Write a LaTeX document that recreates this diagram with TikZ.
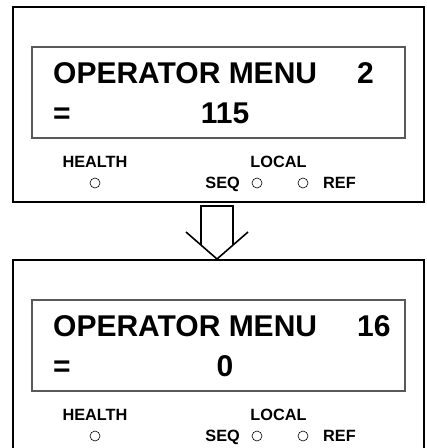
\documentclass[tikz,border=0pt]{standalone}
\usepackage{fontspec}
\setmainfont{Liberation Sans}[BoldFont={Liberation Sans Bold}]
\newfontfamily\boldsans{Liberation Sans Bold}
\begin{document}
\begin{tikzpicture}[x=1pt,y=-1pt,
  outerbox/.style={draw=black,line width=1.6pt},
  innerbox/.style={draw=black!65,line width=1.3pt},
  big/.style={inner sep=0pt,font=\boldsans\fontsize{30}{30}\selectfont},
  small/.style={inner sep=0pt,font=\boldsans\fontsize{16.3}{16}\selectfont},
  led/.style={draw=black,line width=0.6pt,circle,minimum size=10pt,inner sep=0pt},
  arrowline/.style={draw=black,line width=1.6pt,line join=miter}]
\useasboundingbox (0,0) rectangle (427,448);
\fill[white] (0,0) rectangle (427,448);
% panel 1
\draw[outerbox] (13,7) rectangle (424,202);
\draw[innerbox] (32,47) rectangle (405,138);
\node[big,anchor=base west] (t1) at (53,83) {OPERATOR MENU};
\node[big,anchor=base west] (n1) at (357,83) {2};
\node[big,anchor=base west] (e1) at (53,123) {=};
\node[big,anchor=base] (v1) at (225,123) {115};
\node[small,anchor=base] (h1) at (95,167) {HEALTH};
\node[small,anchor=base] (l1) at (278.5,167) {LOCAL};
\node[small,anchor=base east] (s1) at (240,188) {SEQ};
\node[small,anchor=base west] (r1) at (323,188) {REF};
\node[led] (hc1) at (95,183) {};
\node[led] (sc1) at (257,183) {};
\node[led] (rc1) at (303,183) {};
% arrow
\coordinate (tip) at (217,259);
\draw[arrowline] (201,245) -- (201,206) -- (233,206) -- (233,245);
\draw[arrowline] (186,232) -- (tip) -- (248,232);
% panel 2
\draw[outerbox] (13,450) -- (13,260) -- (424,260) -- (424,450);
\draw[innerbox] (32,300) rectangle (405,391);
\node[big,anchor=base west] (t2) at (53,336) {OPERATOR MENU};
\node[big,anchor=base west] (n2) at (357,336) {16};
\node[big,anchor=base west] (e2) at (53,376) {=};
\node[big,anchor=base] (v2) at (225,376) {0};
\node[small,anchor=base] (h2) at (95,420) {HEALTH};
\node[small,anchor=base] (l2) at (278.5,420) {LOCAL};
\node[small,anchor=base east] (s2) at (240,441) {SEQ};
\node[small,anchor=base west] (r2) at (323,441) {REF};
\node[led] (hc2) at (95,436) {};
\node[led] (sc2) at (257,436) {};
\node[led] (rc2) at (303,436) {};
\end{tikzpicture}
\end{document}
